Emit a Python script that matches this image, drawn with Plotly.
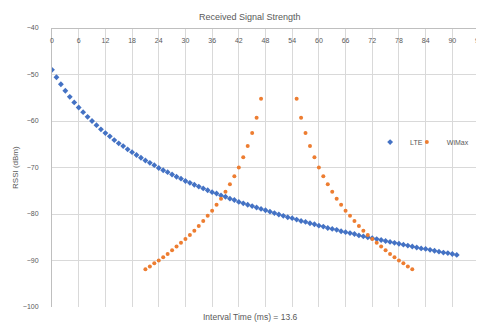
import plotly.graph_objects as go

# ---- data ----
lte_x = list(range(0, 92))
lte_y = [-49.0, -50.6, -52.1, -53.5, -54.8, -56.0, -57.1, -58.1, -59.1, -60.0,
         -60.9, -61.8, -62.6, -63.3, -64.1, -64.8, -65.4, -66.1, -66.7, -67.3,
         -67.9, -68.5, -69.0, -69.5, -70.1, -70.6, -71.0, -71.5, -72.0, -72.4,
         -72.9, -73.3, -73.7, -74.1, -74.5, -74.9, -75.3, -75.6, -76.0, -76.3,
         -76.7, -77.0, -77.4, -77.7, -78.0, -78.3, -78.6, -78.9, -79.2, -79.5,
         -79.8, -80.1, -80.4, -80.7, -80.9, -81.2, -81.5, -81.7, -82.0, -82.2,
         -82.5, -82.7, -83.0, -83.2, -83.4, -83.7, -83.9, -84.1, -84.3, -84.6,
         -84.8, -85.0, -85.2, -85.4, -85.6, -85.8, -86.0, -86.2, -86.4, -86.6,
         -86.8, -87.0, -87.2, -87.4, -87.5, -87.7, -87.9, -88.1, -88.3, -88.4,
         -88.6, -88.8]

wimax_x = list(range(21, 48)) + list(range(55, 82))
wimax_y = [-91.9, -91.3, -90.6, -90.0, -89.3, -88.6, -87.8, -87.0, -86.2, -85.4,
           -84.5, -83.6, -82.6, -81.5, -80.4, -79.3, -78.0, -76.7, -75.2, -73.6,
           -71.9, -70.0, -67.8, -65.4, -62.6, -59.3, -55.2,
           -55.2, -59.3, -62.6, -65.4, -67.8, -70.0, -71.9, -73.6, -75.2, -76.7,
           -78.0, -79.3, -80.4, -81.5, -82.6, -83.6, -84.5, -85.4, -86.2, -87.0,
           -87.8, -88.6, -89.3, -90.0, -90.6, -91.3, -91.9]

x_ticks = list(range(0, 97, 6))
y_ticks = [-40, -50, -60, -70, -80, -90, -100]

title_text = "Received Signal Strength"
x_title = "Interval Time (ms) = 13.6"
y_title = "RSSI (dBm)"

FONT = "Liberation Sans, Arial, sans-serif"
GRAY = "#595959"

fig = go.Figure()
fig.add_trace(go.Scatter(x=lte_x, y=lte_y, mode="markers", name="LTE", legend="legend",
                         marker=dict(color="#4472C4", size=4.5, symbol="diamond")))
fig.add_trace(go.Scatter(x=wimax_x, y=wimax_y, mode="markers", name="WiMax", legend="legend2",
                         marker=dict(color="#ED7D31", size=4, symbol="circle")))

leg_common = dict(orientation="h", xanchor="left", yanchor="middle", y=0.591,
                  bgcolor="rgba(0,0,0,0)", font=dict(size=7, color=GRAY),
                  itemwidth=30, borderwidth=0)

# the page body adds an 8px offset, so the figure is 8px smaller than the window
fig.update_layout(
    width=476, height=314,
    margin=dict(l=44, r=5, t=20, b=15),
    paper_bgcolor="white", plot_bgcolor="white",
    font=dict(family=FONT, size=7, color=GRAY),
    title=dict(text=title_text, x=0.508, xanchor="center", y=0.971, yanchor="middle",
               font=dict(size=9, color=GRAY)),
    showlegend=True,
    legend=dict(x=0.745, **leg_common),
    legend2=dict(x=0.831, **leg_common),
    xaxis=dict(range=[0, 96], tickvals=x_ticks, side="bottom", anchor="free", position=1,
               ticks="outside", ticklen=6, tickcolor="rgba(0,0,0,0)",
               showgrid=True, gridcolor="#d9d9d9", gridwidth=1,
               showline=True, linecolor="#bfbfbf", linewidth=1,
               zeroline=False, automargin=False, tickfont=dict(size=7, color=GRAY)),
    yaxis=dict(range=[-100, -40], tickvals=y_ticks, domain=[0, 1],
               showgrid=True, gridcolor="#d9d9d9", gridwidth=1,
               showline=True, linecolor="#bfbfbf", linewidth=1,
               zeroline=False, ticks="outside", ticklen=11, tickcolor="rgba(0,0,0,0)",
               automargin=False, tickfont=dict(size=7, color=GRAY)),
    annotations=[
        dict(text=x_title, x=0.464, xref="paper", y=-0.014, yref="paper",
             yanchor="top", showarrow=False, borderpad=0,
             font=dict(size=8.5, color=GRAY)),
        dict(text=y_title, x=-0.0984, xref="paper", y=0.5, yref="paper",
             textangle=-90, showarrow=False, borderpad=0,
             font=dict(size=8, color=GRAY)),
    ],
)

fig.write_html("out.html")
